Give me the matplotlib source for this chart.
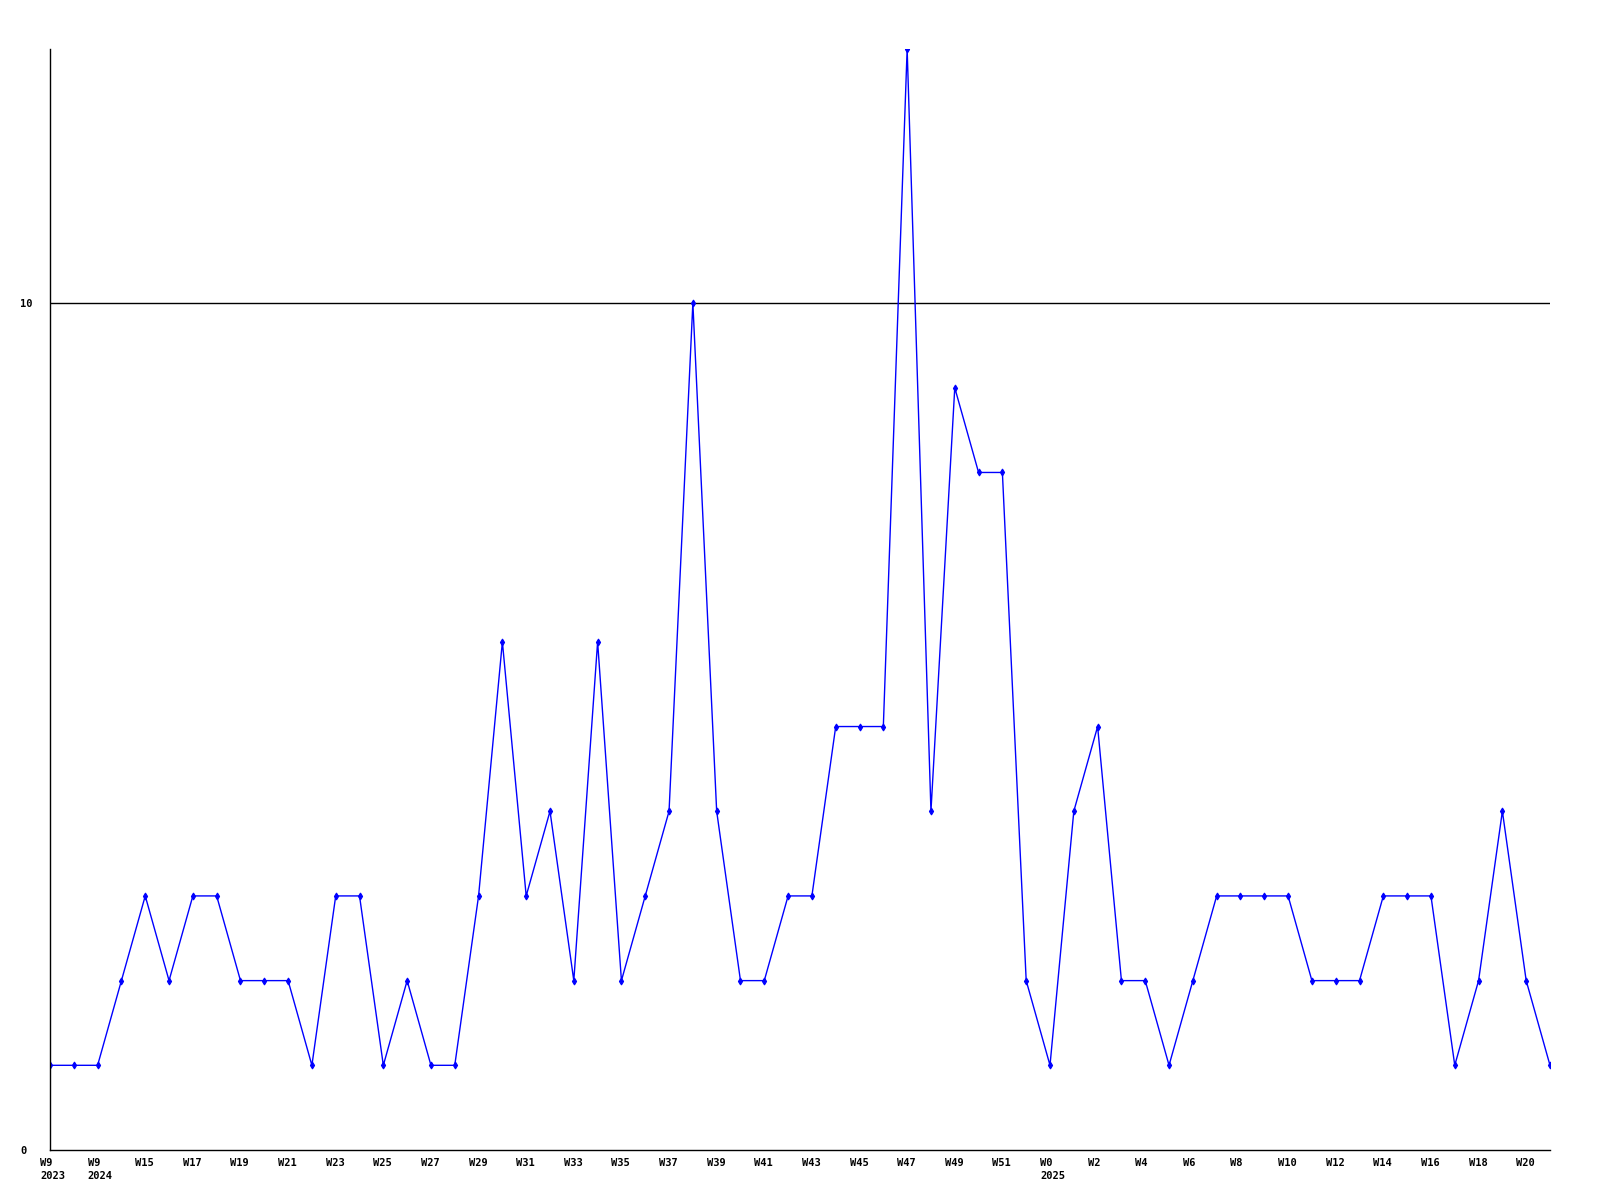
import numpy as np
import matplotlib
matplotlib.use("Agg")
import matplotlib.pyplot as plt
import matplotlib.transforms as mtransforms

counts = [1, 1, 1, 2, 3, 2, 3, 3, 2, 2, 2, 1, 3, 3, 1, 2, 1, 1, 3, 6,
          3, 4, 2, 6, 2, 3, 4, 10, 4, 2, 2, 3, 3, 5, 5, 5, 13, 4, 9, 8,
          8, 2, 1, 4, 5, 2, 2, 1, 2, 3, 3, 3, 3, 2, 2, 2, 3, 3, 3, 1,
          2, 4, 2, 1]

tick_labels = ["W9\n2023", "W9\n2024", "W15", "W17", "W19", "W21", "W23", "W25",
               "W27", "W29", "W31", "W33", "W35", "W37", "W39", "W41", "W43",
               "W45", "W47", "W49", "W51", "W0\n2025", "W2", "W4", "W6", "W8",
               "W10", "W12", "W14", "W16", "W18", "W20"]

x = np.arange(len(counts))

fig = plt.figure(figsize=(16, 12), dpi=100)
ax = fig.add_axes([50 / 1600, 50 / 1200, 1500 / 1600, 1101 / 1200])

ax.axhline(10, color="black", linewidth=1)
ax.plot(x, counts, color="#0000ff", linewidth=1, marker="d", markersize=3.5,
        markeredgewidth=0.8)

ax.set_xlim(0, len(counts) - 1)
ax.set_ylim(0, 13)

font = dict(family="DejaVu Sans Mono", weight="bold", size=7.5)
ax.tick_params(axis="x", length=0, pad=6)
ax.tick_params(axis="y", length=0, pad=21.6)
ax.set_xticks(x[::2])
ax.set_xticklabels(tick_labels, va="top", ha="left", linespacing=1.3, **font)
ax.set_yticks([0, 10])
ax.set_yticklabels(["0", "10"], ha="left", **font)

# labels start a little left of their tick
shift = mtransforms.ScaledTranslation(-10 / 100, 0, fig.dpi_scale_trans)
for lab in ax.xaxis.get_majorticklabels():
    lab.set_transform(lab.get_transform() + shift)

for side in ["top", "right"]:
    ax.spines[side].set_visible(False)
for side in ["left", "bottom"]:
    ax.spines[side].set_linewidth(1)
    ax.spines[side].set_color("black")

fig.savefig("out.png", dpi=100)
